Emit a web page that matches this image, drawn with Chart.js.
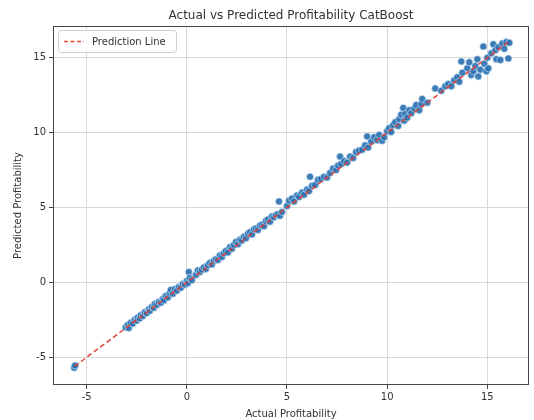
<!DOCTYPE html>
<html lang="en">
<head>
    <meta charset="UTF-8">
    <title>Actual vs Predicted Profitability CatBoost</title>
    <script src="https://cdn.jsdelivr.net/npm/chart.js"></script>
    <style>
        body { margin: 0; background: #fff; }
        #wrap { width: 534px; height: 420px; }
    </style>
</head>
<body>
<div id="wrap"><canvas id="myChart"></canvas></div>
<script>
// actual vs predicted values
const actual = [
    -5.62, -5.58,
    -3.05, -2.95, -2.9, -2.8, -2.7, -2.6, -2.5, -2.45, -2.35, -2.3, -2.2, -2.1, -2.0, -1.9,
    -1.85, -1.75, -1.65, -1.6, -1.5, -1.4, -1.3, -1.2, -1.15, -1.05, -0.95, -0.85, -0.8, -0.7,
    -0.6, -0.5, -0.4, -0.3, -0.2, -0.1, 0.0, 0.05,
    0.1, 0.15, 0.25, 0.45, 0.55, 0.65, 0.75, 0.85, 0.95, 1.05, 1.15, 1.25, 1.35, 1.45, 1.55,
    1.65, 1.75, 1.85, 1.95, 2.05, 2.15, 2.25, 2.35, 2.45, 2.55, 2.65, 2.75, 2.85, 2.95, 3.05,
    3.15, 3.25, 3.35, 3.45, 3.55, 3.65, 3.75, 3.85, 3.95, 4.05, 4.15, 4.25, 4.35, 4.45, 4.55,
    4.6, 4.65, 4.75, 5.0,
    5.1, 5.25, 5.35, 5.5, 5.6, 5.75, 5.85, 6.0, 6.1, 6.15, 6.25, 6.4, 6.55, 6.7, 6.85, 7.0,
    7.15, 7.3, 7.45, 7.55, 7.65, 7.7, 7.85, 8.0, 8.15, 8.3, 8.45, 8.6, 8.75, 8.9, 9.0, 9.05,
    9.2, 9.35, 9.5, 9.6, 9.75, 9.85, 10.0, 10.1,
    10.2, 10.3, 10.4, 10.55, 10.6, 10.7, 10.8, 10.85, 10.9, 11.0, 11.1, 11.2, 11.35, 11.45,
    11.6, 11.7, 11.75, 12.0, 12.4, 12.7, 12.9, 13.05, 13.2,
    13.35, 13.5, 13.6, 13.7, 13.75, 14.0, 14.1, 14.2, 14.3, 14.4, 14.5, 14.55, 14.65, 14.8,
    14.85, 14.95, 15.0, 15.05, 15.2, 15.3, 15.4, 15.45, 15.55, 15.65, 15.75, 15.85, 15.95,
    16.05, 16.1
];
const predicted = [
    -5.7, -5.55,
    -3.0, -2.85, -3.05, -2.7, -2.75, -2.5, -2.55, -2.35, -2.4, -2.2, -2.25, -2.0, -2.05, -1.8,
    -1.9, -1.65, -1.7, -1.45, -1.5, -1.3, -1.35, -1.1, -1.2, -0.9, -1.0, -0.7, -0.5, -0.75,
    -0.45, -0.55, -0.3, -0.35, -0.1, -0.15, 0.1, -0.05,
    0.7, 0.3, 0.15, 0.5, 0.8, 0.7, 0.85, 1.0, 0.9, 1.15, 1.3, 1.2, 1.45, 1.55, 1.5,
    1.8, 1.7, 1.95, 2.1, 2.0, 2.35, 2.25, 2.5, 2.7, 2.55, 2.85, 2.8, 3.05, 2.95, 3.25,
    3.35, 3.2, 3.55, 3.6, 3.5, 3.8, 3.85, 3.75, 4.1, 4.2, 4.05, 4.4, 4.35, 4.5, 4.55,
    5.4, 4.45, 4.7, 5.1,
    5.45, 5.6, 5.4, 5.8, 5.7, 6.0, 5.85, 6.2, 6.1, 7.05, 6.45, 6.5, 6.85, 6.9, 7.05, 7.0,
    7.3, 7.6, 7.5, 7.8, 8.4, 7.9, 8.1, 8.0, 8.4, 8.3, 8.7, 8.8, 8.85, 9.15, 9.75, 9.0,
    9.4, 9.7, 9.5, 9.85, 9.45, 9.7, 10.1, 10.3,
    10.05, 10.5, 10.7, 10.45, 10.9, 11.2, 11.65, 10.8, 11.25, 11.0, 11.5, 11.3, 11.6, 11.85,
    11.5, 11.9, 12.25, 12.0, 12.95, 12.8, 13.1, 13.25, 13.1,
    13.5, 13.7, 13.4, 14.75, 14.0, 14.3, 14.7, 13.85, 14.1, 14.45, 14.9, 13.75, 14.2, 15.75,
    14.6, 14.1, 15.0, 14.3, 15.3, 15.9, 15.5, 14.9, 15.7, 14.85, 15.95, 15.6, 16.05,
    14.95, 16.0
];
// ends of the y = x reference line
const lineEnds = [-5.6, 16.1];
const xTicks = [-5, 0, 5, 10, 15];
const yTicks = [-5, 0, 5, 10, 15];

const points = actual.map((a, i) => ({ x: a, y: predicted[i] }));
const linePts = lineEnds.map(v => ({ x: v, y: v }));

const fontFam = "'DejaVu Sans', sans-serif";
const textCol = '#333';

// full box around the plot and the legend inside it
const framePlugin = {
    id: 'frame',
    afterDraw(chart) {
        const { ctx, chartArea: a } = chart;
        ctx.save();
        ctx.strokeStyle = '#444';
        ctx.lineWidth = 1;
        ctx.strokeRect(a.left + 0.5, a.top + 0.5, a.right - a.left - 1, a.bottom - a.top - 1);

        // legend
        const lx = a.left + 5, ly = a.top + 4, lw = 118, lh = 22;
        ctx.fillStyle = 'rgba(255,255,255,0.85)';
        ctx.strokeStyle = '#d0d0d0';
        ctx.beginPath();
        ctx.roundRect(lx + 0.5, ly + 0.5, lw, lh, 3);
        ctx.fill();
        ctx.stroke();
        ctx.strokeStyle = '#e0413a';
        ctx.lineWidth = 1.5;
        ctx.setLineDash([4, 2.5]);
        ctx.beginPath();
        ctx.moveTo(lx + 6, ly + lh / 2 + 0.5);
        ctx.lineTo(lx + 26, ly + lh / 2 + 0.5);
        ctx.stroke();
        ctx.setLineDash([]);
        ctx.fillStyle = textCol;
        ctx.font = "10px " + fontFam;
        ctx.textBaseline = 'middle';
        ctx.fillText('Prediction Line', lx + 34, ly + lh / 2 + 1);
        ctx.restore();
    }
};

const ctx = document.getElementById('myChart').getContext('2d');
new Chart(ctx, {
    type: 'scatter',
    data: {
        datasets: [{
            label: 'Prediction Line',
            type: 'line',
            data: linePts,
            borderColor: '#e0413a',
            borderWidth: 1.5,
            borderDash: [5, 3],
            pointRadius: 0,
            fill: false,
            order: 0
        }, {
            label: 'Data',
            data: points,
            backgroundColor: 'rgba(40,110,175,0.9)',
            borderColor: 'rgba(200,225,245,0.8)',
            borderWidth: 0.8,
            pointRadius: 3.5,
            order: 1
        }]
    },
    plugins: [framePlugin],
    options: {
        responsive: true,
        maintainAspectRatio: false,
        animation: false,
        layout: { padding: { right: 5, left: 0, top: 0, bottom: 0 } },
        plugins: {
            legend: { display: false },
            tooltip: { enabled: false },
            title: {
                display: true,
                fullSize: false,
                text: 'Actual vs Predicted Profitability CatBoost',
                color: textCol,
                font: { family: fontFam, size: 12, weight: 'normal' },
                padding: { top: 9, bottom: 2.6 }
            }
        },
        scales: {
            x: {
                type: 'linear',
                min: -6.68,
                max: 17.08,
                afterBuildTicks: s => { s.ticks = xTicks.map(v => ({ value: v })); },
                afterFit: s => { s.height = 35; },
                border: { display: false },
                grid: { color: '#d9d9d9', tickColor: '#444', tickLength: 4 },
                ticks: { color: textCol, font: { family: fontFam, size: 10 }, padding: 2 },
                title: {
                    display: true, text: 'Actual Profitability', color: textCol,
                    font: { family: fontFam, size: 10 }, padding: { top: 1, bottom: 0 }
                }
            },
            y: {
                type: 'linear',
                min: -6.85,
                max: 17.12,
                afterBuildTicks: s => { s.ticks = yTicks.map(v => ({ value: v })); },
                afterFit: s => { s.width = 53; },
                border: { display: false },
                grid: { color: '#d9d9d9', tickColor: '#444', tickLength: 4 },
                ticks: { color: textCol, font: { family: fontFam, size: 10 }, padding: 3 },
                title: {
                    display: true, text: 'Predicted Profitability', color: textCol,
                    font: { family: fontFam, size: 10 }, padding: { top: 12, bottom: 4 }
                }
            }
        }
    }
});
</script>
</body>
</html>
